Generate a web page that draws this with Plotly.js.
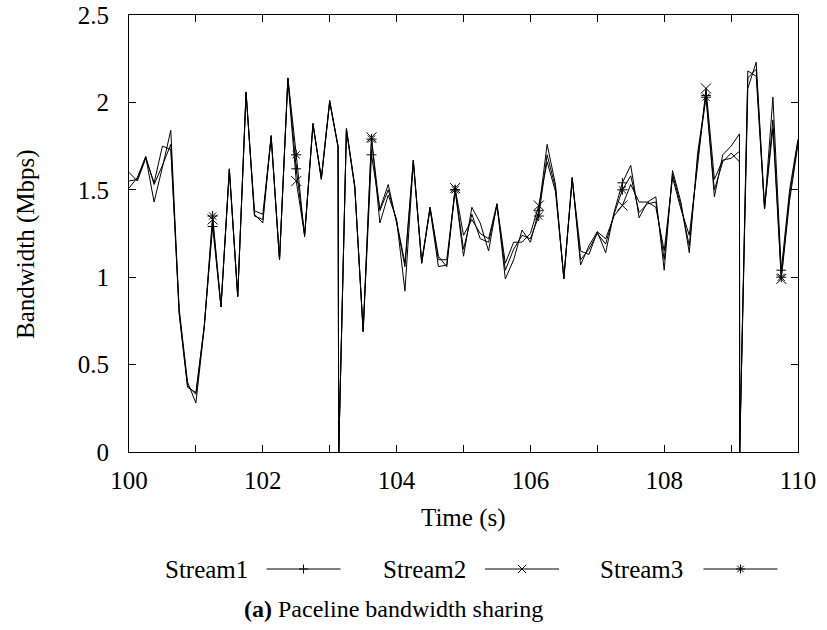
<!DOCTYPE html>
<html>
<head>
<meta charset="utf-8">
<script src="https://cdn.plot.ly/plotly-3.0.1.min.js"></script>
<style>html,body{margin:0;padding:0;background:#fff;}#chart{width:827px;height:630px;}</style>
</head>
<body>
<div id="chart"></div>
<script>
// ---- data ----
const time = [100.000,100.125,100.250,100.375,100.500,100.625,100.750,100.875,101.000,101.125,
  101.250,101.375,101.500,101.625,101.750,101.875,102.000,102.125,102.250,102.375,
  102.500,102.625,102.750,102.875,103.000,103.125,103.135,103.250,103.375,103.500,
  103.625,103.750,103.875,104.000,104.125,104.250,104.375,104.500,104.625,104.750,
  104.875,105.000,105.125,105.250,105.375,105.500,105.625,105.750,105.875,106.000,
  106.125,106.250,106.375,106.500,106.625,106.750,106.875,107.000,107.125,107.250,
  107.375,107.500,107.625,107.750,107.875,108.000,108.125,108.250,108.375,108.500,
  108.625,108.750,108.875,109.000,109.125,109.128,109.250,109.375,109.500,109.625,
  109.750,109.875,110.000];

const stream1 = [1.51,1.57,1.69,1.43,1.63,1.84,0.80,0.38,0.33,0.72,
  1.29,0.83,1.62,0.89,2.06,1.36,1.31,1.81,1.10,2.14,
  1.62,1.24,1.88,1.56,2.01,1.75,0.00,1.85,1.52,0.69,
  1.70,1.39,1.53,1.31,1.06,1.67,1.08,1.40,1.12,1.06,
  1.50,1.12,1.40,1.31,1.15,1.42,0.99,1.10,1.27,1.20,
  1.38,1.76,1.53,0.99,1.57,1.07,1.18,1.26,1.14,1.37,
  1.54,1.64,1.34,1.43,1.46,1.04,1.61,1.43,1.14,1.71,
  2.04,1.46,1.70,1.75,1.82,0.00,2.18,2.15,1.39,2.03,
  1.04,1.50,1.79];

const stream2 = [1.60,1.55,1.68,1.54,1.75,1.73,0.82,0.40,0.28,0.71,
  1.33,0.83,1.61,0.89,2.05,1.38,1.36,1.80,1.10,2.13,
  1.55,1.24,1.87,1.57,2.01,1.74,0.00,1.85,1.52,0.69,
  1.80,1.31,1.47,1.33,0.92,1.66,1.08,1.39,1.06,1.07,
  1.51,1.24,1.33,1.25,1.22,1.42,1.08,1.20,1.20,1.25,
  1.41,1.66,1.49,1.00,1.56,1.15,1.13,1.26,1.22,1.35,
  1.41,1.53,1.43,1.43,1.40,1.15,1.57,1.39,1.24,1.64,
  2.08,1.56,1.67,1.68,1.72,0.00,2.08,2.23,1.40,1.85,
  0.99,1.44,1.76];

const stream3 = [1.55,1.56,1.69,1.53,1.64,1.76,0.79,0.37,0.34,0.72,
  1.35,0.83,1.62,0.89,2.06,1.35,1.33,1.81,1.10,2.14,
  1.70,1.23,1.88,1.56,2.00,1.75,0.00,1.84,1.51,0.69,
  1.79,1.38,1.50,1.32,1.08,1.67,1.09,1.40,1.10,1.10,
  1.50,1.16,1.36,1.22,1.20,1.41,1.04,1.16,1.24,1.22,
  1.35,1.70,1.51,0.99,1.57,1.10,1.16,1.25,1.19,1.36,
  1.50,1.58,1.37,1.42,1.43,1.10,1.59,1.41,1.18,1.68,
  2.03,1.50,1.66,1.71,1.66,0.00,2.14,2.19,1.39,1.90,
  1.00,1.47,1.78];

const seriesNames = ["Stream1", "Stream2", "Stream3"];
const xTitle = "Time (s)";
const yTitle = "Bandwidth (Mbps)";
const caption = "<b>(a)</b> Paceline bandwidth sharing";

// ---- styling / layout ----
const FONT = 'Liberation Serif, Times New Roman, serif';
const W = 827, H = 630;
const M = {l: 129, r: 29, t: 15, b: 178};
const PW = W - M.l - M.r, PH = H - M.t - M.b;
const px = x => (x - M.l) / PW;
const py = y => (H - M.b - y) / PH;

const allSeries = [stream1, stream2, stream3];
const symbols = ["cross-thin", "x-thin", "asterisk"];
const symSizes = [7, 10, 8.5];
const pointEvery = 10;

const traces = [];
allSeries.forEach((s, i) => {
  traces.push({
    x: time, y: s, type: "scatter", mode: "lines",
    line: {color: "#000", width: 1}, showlegend: false, hoverinfo: "skip"
  });
});
allSeries.forEach((s, i) => {
  const mx = [], my = [];
  time.forEach((t, k) => { if (k > 0 && k % pointEvery === 0) { mx.push(t); my.push(s[k]); } });
  traces.push({
    x: mx, y: my, type: "scatter", mode: "markers", showlegend: false, hoverinfo: "skip",
    marker: {symbol: symbols[i], size: symSizes[i], color: "#000", line: {color: "#000", width: 1}}
  });
});

// legend drawn gnuplot-style: label, then line sample with point
const legTextX = [163, 381, 597.5];
const legLineX0 = [266.5, 485, 703.5];
const legLen = 74;
const legY = 569;
const shapes = [];
const annotations = [];
function glyph(i, cx, cy) {
  const out = [];
  const add = d => out.push({type: "path", xref: "paper", yref: "paper", xsizemode: "pixel", ysizemode: "pixel",
    xanchor: px(cx), yanchor: py(cy), path: d, line: {color: "#000", width: 1}});
  if (i === 0) { add("M-4.5,0L4.5,0M0,-4.5L0,4.5"); }
  else if (i === 1) { add("M-4,-4L4,4M-4,4L4,-4"); }
  else { add("M-4.5,0L4.5,0M0,-4.5L0,4.5M-3.3,-3.3L3.3,3.3M-3.3,3.3L3.3,-3.3"); }
  return out;
}
seriesNames.forEach((name, i) => {
  annotations.push({text: name, xref: "paper", yref: "paper", x: px(legTextX[i]), y: py(legY + 0.6),
    xanchor: "left", yanchor: "middle", showarrow: false, font: {family: FONT, size: 25, color: "#000"}});
  shapes.push({type: "line", xref: "paper", yref: "paper", x0: px(legLineX0[i]), x1: px(legLineX0[i] + legLen),
    y0: py(legY), y1: py(legY), line: {color: "#000", width: 1}});
  shapes.push(...glyph(i, legLineX0[i] + legLen / 2, legY));
});

annotations.push({text: xTitle, xref: "paper", yref: "paper", x: 0.5, y: py(518),
  xanchor: "center", yanchor: "middle", showarrow: false, font: {family: FONT, size: 25, color: "#000"}});
annotations.push({text: yTitle, xref: "paper", yref: "paper", x: px(26), y: py(244), textangle: -90,
  xanchor: "center", yanchor: "middle", showarrow: false, font: {family: FONT, size: 25, color: "#000"}});
annotations.push({text: caption, xref: "paper", yref: "paper", x: px(241.7), y: py(609),
  xanchor: "left", yanchor: "middle", showarrow: false, font: {family: FONT, size: 24, color: "#000"}});

const axisCommon = {
  showline: true, linecolor: "#000", linewidth: 1, mirror: "allticks",
  ticks: "inside", ticklen: 7, tickwidth: 1, tickcolor: "#000",
  showgrid: false, zeroline: false,
  tickfont: {family: FONT, size: 25, color: "#000"}
};

const layout = {
  width: W, height: H,
  margin: M,
  paper_bgcolor: "#fff", plot_bgcolor: "#fff",
  font: {family: FONT, color: "#000"},
  showlegend: false,
  xaxis: Object.assign({}, axisCommon, {
    range: [100, 110], tick0: 100, dtick: 2, ticklabelstandoff: 6,
    minor: {tick0: 100, dtick: 1, ticks: "inside", ticklen: 7, tickwidth: 1, tickcolor: "#000", showgrid: false}
  }),
  yaxis: Object.assign({}, axisCommon, {
    range: [0, 2.5], tick0: 0, dtick: 0.5, ticklabelstandoff: 14
  }),
  shapes: shapes,
  annotations: annotations
};

Plotly.newPlot("chart", traces, layout, {staticPlot: true, displayModeBar: false});
</script>
</body>
</html>
